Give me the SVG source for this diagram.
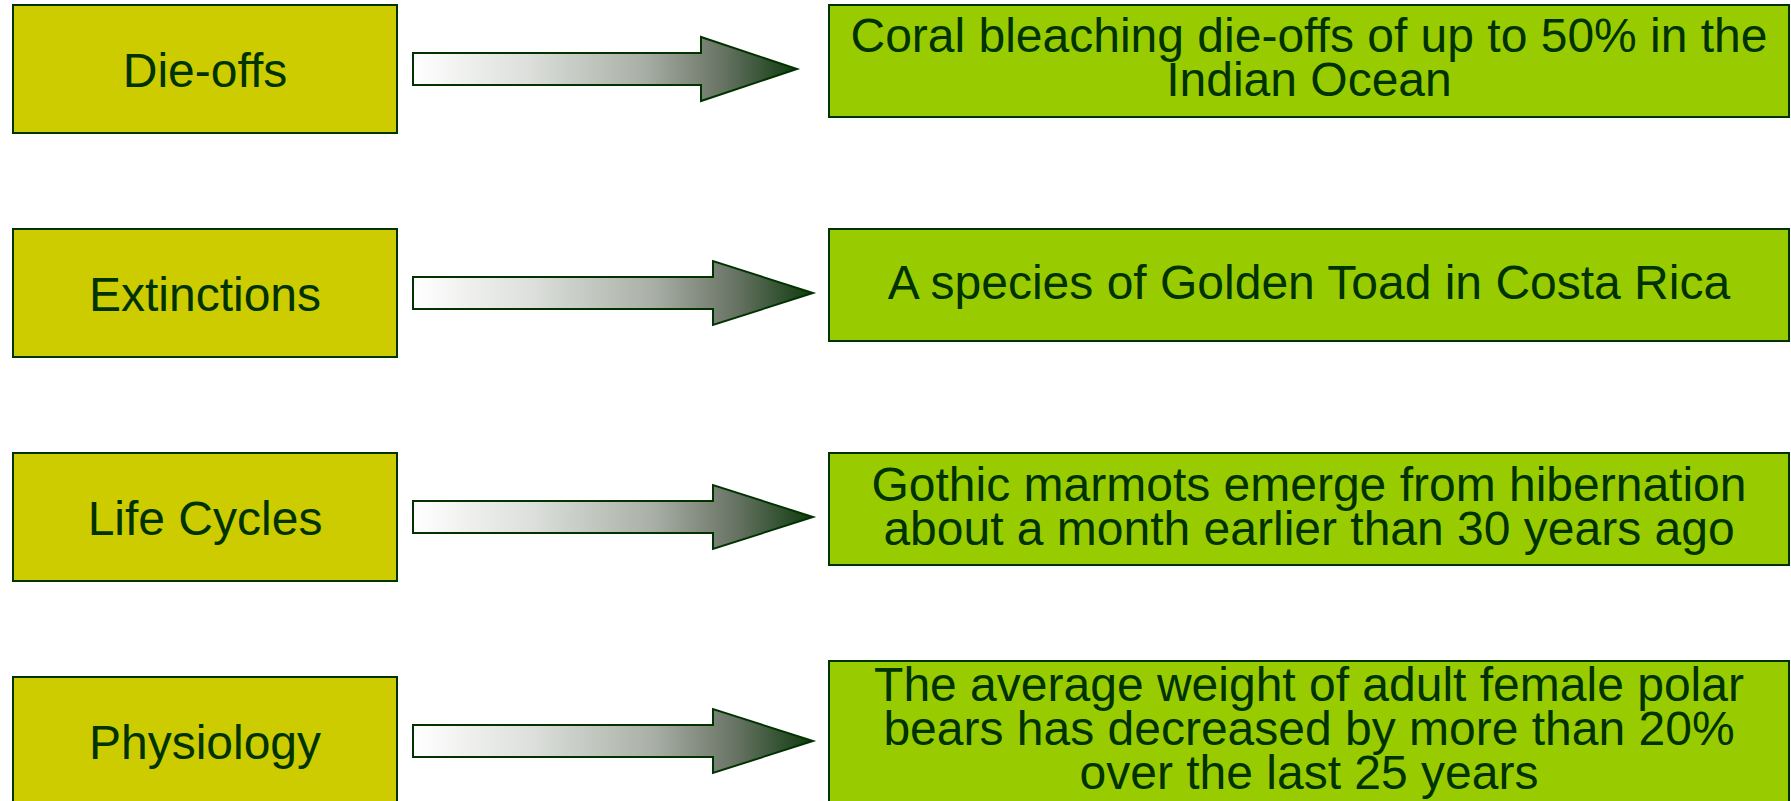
<svg xmlns="http://www.w3.org/2000/svg" width="1791" height="801" viewBox="0 0 1791 801">
<style>
.lbox{fill:#CCCC00;stroke:#003300;stroke-width:2}
.rbox{fill:#99CC00;stroke:#003300;stroke-width:2}
.arrow{fill:url(#ag);stroke:#003300;stroke-width:2;stroke-linejoin:miter}
text{font-family:"Liberation Sans",Arial,sans-serif;font-size:48px;fill:#003300;text-anchor:middle}
</style>
<defs>
<linearGradient id="ag" x1="0" y1="0" x2="1" y2="0">
<stop offset="0" stop-color="#ffffff"/>
<stop offset="0.3" stop-color="#dcdfdb"/>
<stop offset="0.6" stop-color="#a9afa6"/>
<stop offset="0.8" stop-color="#6a7566"/>
<stop offset="1" stop-color="#0f3a0f"/>
</linearGradient>
</defs>
<rect width="1791" height="801" fill="#ffffff"/>
<g id="node-dieoffs">
<rect class="lbox" x="13" y="5" width="384" height="128"/>
<text x="205" y="87">Die-offs</text>
</g>
<g id="node-extinctions">
<rect class="lbox" x="13" y="229" width="384" height="128"/>
<text x="205" y="311">Extinctions</text>
</g>
<g id="node-lifecycles">
<rect class="lbox" x="13" y="453" width="384" height="128"/>
<text x="205" y="535">Life Cycles</text>
</g>
<g id="node-physiology">
<rect class="lbox" x="13" y="677" width="384" height="128"/>
<text x="205" y="759">Physiology</text>
</g>
<g id="node-coral">
<rect class="rbox" x="829" y="5" width="960" height="112"/>
<text x="1309" y="52">Coral bleaching die-offs of up to 50% in the</text>
<text x="1309" y="96">Indian Ocean</text>
</g>
<g id="node-toad">
<rect class="rbox" x="829" y="229" width="960" height="112"/>
<text x="1309" y="299">A species of Golden Toad in Costa Rica</text>
</g>
<g id="node-marmots">
<rect class="rbox" x="829" y="453" width="960" height="112"/>
<text x="1309" y="501">Gothic marmots emerge from hibernation</text>
<text x="1309" y="545">about a month earlier than 30 years ago</text>
</g>
<g id="node-bears">
<rect class="rbox" x="829" y="661" width="960" height="160"/>
<text x="1309" y="701">The average weight of adult female polar</text>
<text x="1309" y="745">bears has decreased by more than 20%</text>
<text x="1309" y="789">over the last 25 years</text>
</g>
<g id="connectors">
<polygon class="arrow" points="413,53 701,53 701,37 797,69 701,101 701,85 413,85"/>
<polygon class="arrow" points="413,277 713,277 713,261 813,293 713,325 713,309 413,309"/>
<polygon class="arrow" points="413,501 713,501 713,485 813,517 713,549 713,533 413,533"/>
<polygon class="arrow" points="413,725 713,725 713,709 813,741 713,773 713,757 413,757"/>
</g>
</svg>
